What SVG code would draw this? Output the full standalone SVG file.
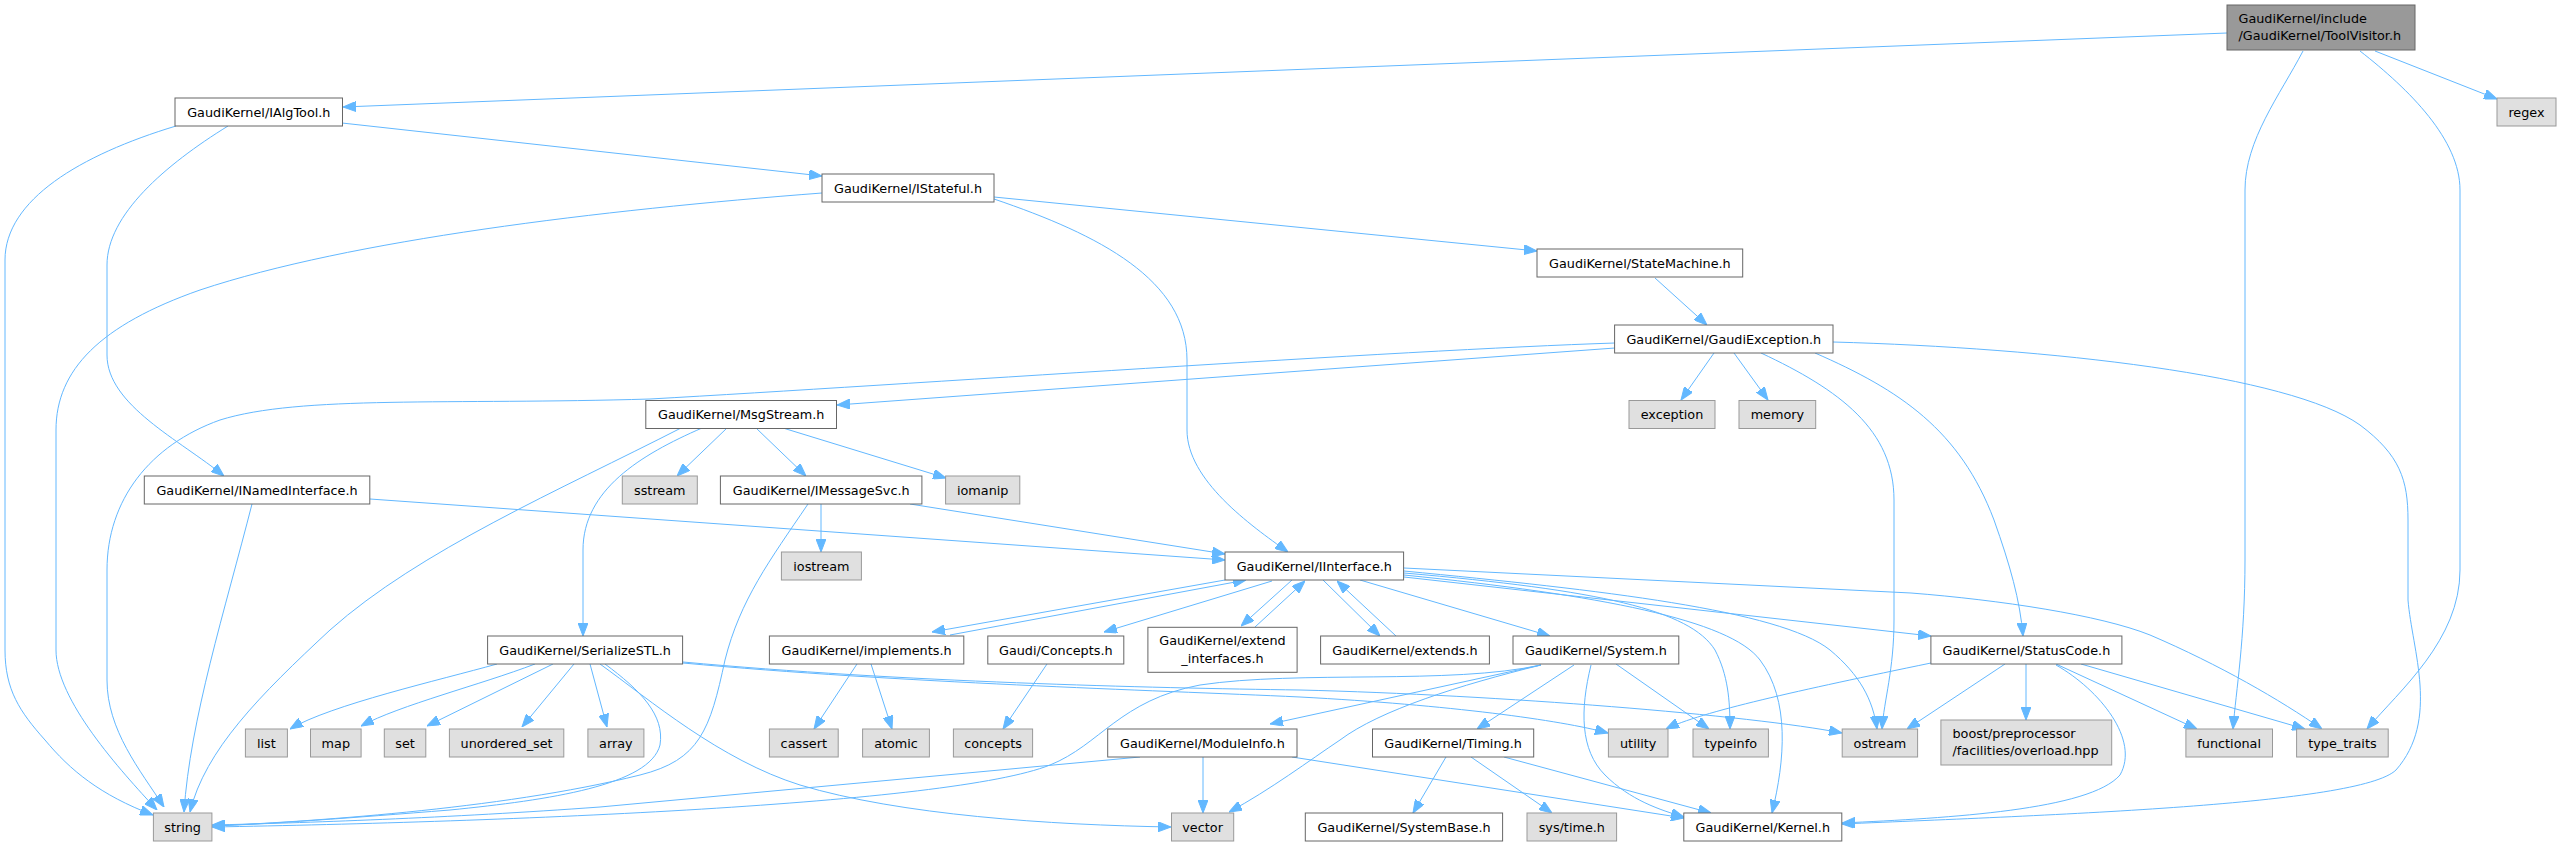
<svg xmlns="http://www.w3.org/2000/svg" width="2561" height="846" viewBox="0 0 2561 846">
<style>
text{font-family:"DejaVu Sans","Liberation Sans",sans-serif;font-size:12.8px;fill:#000;text-anchor:middle}
.n rect{fill:#fff;stroke:#666;stroke-width:1}
.x rect{fill:#e0e0e0;stroke:#999;stroke-width:1}
.r rect{fill:#999;stroke:#666;stroke-width:1}
.l text{text-anchor:start}
#edges path{fill:none;stroke:#63b8ff;stroke-width:1;marker-end:url(#ah)}
</style>
<defs>
<marker id="ah" markerUnits="userSpaceOnUse" markerWidth="13" markerHeight="10" refX="13" refY="5" orient="auto">
<path d="M0,0 L13,5 L0,10 z" fill="#63b8ff" stroke="#63b8ff" stroke-width="1"/>
</marker>
</defs>
<rect width="2561" height="846" fill="#fff"/>
<g id="edges">
<path d="M2227,33 L343,107"/>
<path d="M2375,51 L2497,99"/>
<path d="M2303,51 C2280,95 2245,140 2245,190 L2245,560 C2245,640 2236,690 2233,729"/>
<path d="M2360,51 C2410,90 2460,140 2460,190 L2460,570 C2460,640 2400,690 2367,729"/>
<path d="M342,123 L822,176"/>
<path d="M228,126 C165,165 107,215 107,265 L107,355 C107,405 180,440 224,476"/>
<path d="M176,126 C80,155 5,200 5,260 L5,650 C5,690 20,712 45,740 C70,770 100,795 153,815"/>
<path d="M994,199 C1100,235 1187,280 1187,360 L1187,430 C1187,480 1250,525 1288,552"/>
<path d="M994,197 L1537,251"/>
<path d="M822,193 C600,210 350,240 200,290 C100,325 56,370 56,430 L56,650 C56,700 120,770 157,810"/>
<path d="M1655,278 L1707,325"/>
<path d="M1615,348 L837,405"/>
<path d="M1615,343 C1400,350 900,385 650,399 C450,405 300,395 220,420 C150,445 107,500 107,570 L107,680 C107,730 140,770 164,807"/>
<path d="M1714,353 L1681,400"/>
<path d="M1734,353 L1768,400"/>
<path d="M1761,353 C1840,390 1894,430 1894,500 L1894,620 C1894,670 1884,700 1882,729"/>
<path d="M1815,353 C1900,390 1960,430 1994,520 C2010,565 2020,600 2023,636"/>
<path d="M1833,342 C2050,348 2290,375 2360,425 C2400,455 2408,480 2408,520 L2408,600 C2412,650 2440,720 2396,770 C2360,805 2050,815 1842,824"/>
<path d="M2056,665 C2100,690 2140,740 2120,775 C2090,810 1950,818 1842,823"/>
<path d="M2026,664 L2026,720"/>
<path d="M2056,664 L2197,729"/>
<path d="M2081,664 L2305,729"/>
<path d="M2005,664 L1907,729"/>
<path d="M1931,663 C1800,690 1700,712 1666,729"/>
<path d="M727,428 L677,476"/>
<path d="M756,428 L806,476"/>
<path d="M783,428 L946,478"/>
<path d="M702,428 C640,455 583,490 583,550 L583,636"/>
<path d="M681,428 C560,490 420,550 330,630 C260,695 205,750 190,812"/>
<path d="M821,504 L821,552"/>
<path d="M910,504 L1225,554"/>
<path d="M808,504 C770,560 740,600 725,660 C710,730 700,760 640,775 C500,810 300,822 212,826"/>
<path d="M370,499 L1225,560"/>
<path d="M252,504 C225,610 190,720 184,812"/>
<path d="M950,635 L1246,580"/>
<path d="M1225,580 L932,632"/>
<path d="M1272,581 L1104,632"/>
<path d="M1292,580 L1241,626"/>
<path d="M1255,627 L1305,581"/>
<path d="M1323,580 L1380,636"/>
<path d="M1396,636 L1337,581"/>
<path d="M1360,580 L1550,636"/>
<path d="M1404,577 L1931,636"/>
<path d="M1404,573 C1600,590 1690,610 1715,650 C1728,675 1730,700 1730,729"/>
<path d="M1404,571 C1600,590 1780,610 1830,650 C1860,675 1873,700 1877,729"/>
<path d="M1404,575 C1600,595 1730,620 1760,660 C1790,700 1785,760 1772,813"/>
<path d="M1404,568 L1911,593 C2000,600 2100,615 2150,635 C2220,665 2280,700 2322,729"/>
<path d="M857,664 L814,729"/>
<path d="M871,664 L892,729"/>
<path d="M1047,664 L1003,729"/>
<path d="M1541,665 L1270,724"/>
<path d="M1574,665 L1477,729"/>
<path d="M1591,665 C1580,710 1580,750 1605,775 C1630,800 1660,810 1684,817"/>
<path d="M1616,664 L1709,729"/>
<path d="M1541,665 C1460,685 1380,710 1340,740 C1310,760 1270,790 1229,812"/>
<path d="M1541,665 C1450,685 1300,670 1200,685 C1120,700 1100,745 1050,765 C950,805 500,822 212,827"/>
<path d="M1292,757 L1684,818"/>
<path d="M1140,757 L600,807 C450,818 300,823 212,825"/>
<path d="M1203,757 L1203,813"/>
<path d="M1446,757 L1413,813"/>
<path d="M1471,757 L1552,813"/>
<path d="M1504,757 L1711,813"/>
<path d="M497,664 C440,680 330,705 290,729"/>
<path d="M535,664 C480,685 400,705 361,726"/>
<path d="M553,664 L427,726"/>
<path d="M574,664 L522,727"/>
<path d="M590,664 L607,727"/>
<path d="M600,664 C650,700 720,760 800,785 C900,815 1050,825 1171,827"/>
<path d="M605,664 C640,690 665,715 660,745 C650,785 550,800 450,810 C350,818 270,824 212,826"/>
<path d="M683,663 C900,683 1150,690 1300,697 C1450,705 1560,720 1608,733"/>
<path d="M683,662 C900,682 1150,688 1300,690 C1500,695 1750,715 1842,733"/>
</g>
<g id="toolvisitor" class="r l"><rect x="2227" y="5" width="188" height="45"/><text x="2238.5" y="23">GaudiKernel/include</text><text x="2238.5" y="39.6">/GaudiKernel/ToolVisitor.h</text></g>
<g id="ialgtool" class="n"><rect x="175" y="98" width="167.5" height="28"/><text x="258.8" y="116.6">GaudiKernel/IAlgTool.h</text></g>
<g id="regex" class="x"><rect x="2497" y="98" width="59" height="28"/><text x="2526.5" y="116.6">regex</text></g>
<g id="istateful" class="n"><rect x="822" y="174" width="172" height="28"/><text x="908" y="192.6">GaudiKernel/IStateful.h</text></g>
<g id="statemachine" class="n"><rect x="1537" y="249" width="205.7" height="28"/><text x="1639.9" y="267.6">GaudiKernel/StateMachine.h</text></g>
<g id="gaudiexception" class="n"><rect x="1614.6" y="325" width="218.4" height="28"/><text x="1723.8" y="343.6">GaudiKernel/GaudiException.h</text></g>
<g id="msgstream" class="n"><rect x="645.8" y="400.5" width="190.7" height="28"/><text x="741.2" y="419.1">GaudiKernel/MsgStream.h</text></g>
<g id="exception" class="x"><rect x="1629" y="400.5" width="86" height="28"/><text x="1672" y="419.1">exception</text></g>
<g id="memory" class="x"><rect x="1739" y="400.5" width="76.7" height="28"/><text x="1777.4" y="419.1">memory</text></g>
<g id="inamedinterface" class="n"><rect x="144.3" y="476" width="225.5" height="28"/><text x="257" y="494.6">GaudiKernel/INamedInterface.h</text></g>
<g id="sstream" class="x"><rect x="622.3" y="476" width="75" height="28"/><text x="659.8" y="494.6">sstream</text></g>
<g id="imessagesvc" class="n"><rect x="720.4" y="476" width="201.5" height="28"/><text x="821.2" y="494.6">GaudiKernel/IMessageSvc.h</text></g>
<g id="iomanip" class="x"><rect x="945.6" y="476" width="74.2" height="28"/><text x="982.7" y="494.6">iomanip</text></g>
<g id="iostream" class="x"><rect x="781.4" y="552" width="80" height="28"/><text x="821.4" y="570.6">iostream</text></g>
<g id="iinterface" class="n"><rect x="1225" y="552" width="178.6" height="28"/><text x="1314.3" y="570.6">GaudiKernel/IInterface.h</text></g>
<g id="serializestl" class="n"><rect x="487.6" y="636" width="195" height="28"/><text x="585.1" y="654.6">GaudiKernel/SerializeSTL.h</text></g>
<g id="implements" class="n"><rect x="769.4" y="636" width="194.4" height="28"/><text x="866.6" y="654.6">GaudiKernel/implements.h</text></g>
<g id="concepts_h" class="n"><rect x="987.8" y="636" width="136" height="28"/><text x="1055.8" y="654.6">Gaudi/Concepts.h</text></g>
<g id="extend_interfaces" class="n"><rect x="1147.9" y="627.3" width="149.2" height="45"/><text x="1222.5" y="645.3">GaudiKernel/extend</text><text x="1222.5" y="662.9">_interfaces.h</text></g>
<g id="extends" class="n"><rect x="1320.6" y="636" width="168.8" height="28"/><text x="1405" y="654.6">GaudiKernel/extends.h</text></g>
<g id="system" class="n"><rect x="1513" y="636" width="165.8" height="28"/><text x="1595.9" y="654.6">GaudiKernel/System.h</text></g>
<g id="statuscode" class="n"><rect x="1930.9" y="636" width="191" height="28"/><text x="2026.4" y="654.6">GaudiKernel/StatusCode.h</text></g>
<g id="list" class="x"><rect x="245.4" y="729" width="42" height="28"/><text x="266.4" y="747.6">list</text></g>
<g id="map" class="x"><rect x="310.5" y="729" width="50.6" height="28"/><text x="335.8" y="747.6">map</text></g>
<g id="set" class="x"><rect x="384.3" y="729" width="41.5" height="28"/><text x="405" y="747.6">set</text></g>
<g id="unordered_set" class="x"><rect x="449.4" y="729" width="114.4" height="28"/><text x="506.6" y="747.6">unordered_set</text></g>
<g id="array" class="x"><rect x="587.9" y="729" width="56" height="28"/><text x="615.9" y="747.6">array</text></g>
<g id="cassert" class="x"><rect x="769.4" y="729" width="68.8" height="28"/><text x="803.8" y="747.6">cassert</text></g>
<g id="atomic" class="x"><rect x="862.6" y="729" width="66.8" height="28"/><text x="896" y="747.6">atomic</text></g>
<g id="concepts" class="x"><rect x="953.4" y="729" width="79.2" height="28"/><text x="993" y="747.6">concepts</text></g>
<g id="moduleinfo" class="n"><rect x="1107.7" y="729" width="189.3" height="28"/><text x="1202.4" y="747.6">GaudiKernel/ModuleInfo.h</text></g>
<g id="timing" class="n"><rect x="1372.5" y="729" width="161.2" height="28"/><text x="1453.1" y="747.6">GaudiKernel/Timing.h</text></g>
<g id="utility" class="x"><rect x="1608.4" y="729" width="59.6" height="28"/><text x="1638.2" y="747.6">utility</text></g>
<g id="typeinfo" class="x"><rect x="1693" y="729" width="75.4" height="28"/><text x="1730.7" y="747.6">typeinfo</text></g>
<g id="ostream" class="x"><rect x="1842.2" y="729" width="75.4" height="28"/><text x="1879.9" y="747.6">ostream</text></g>
<g id="boost" class="x l"><rect x="1940.9" y="720" width="170.8" height="45"/><text x="1952.5" y="738">boost/preprocessor</text><text x="1952.5" y="754.6">/facilities/overload.hpp</text></g>
<g id="functional" class="x"><rect x="2185.9" y="729" width="86.6" height="28"/><text x="2229.2" y="747.6">functional</text></g>
<g id="type_traits" class="x"><rect x="2296.6" y="729" width="91.6" height="28"/><text x="2342.4" y="747.6">type_traits</text></g>
<g id="string" class="x"><rect x="153.4" y="813" width="58.5" height="28"/><text x="182.6" y="831.6">string</text></g>
<g id="vector" class="x"><rect x="1171.5" y="813" width="62.2" height="28"/><text x="1202.6" y="831.6">vector</text></g>
<g id="systembase" class="n"><rect x="1305.3" y="813" width="197.3" height="28"/><text x="1404" y="831.6">GaudiKernel/SystemBase.h</text></g>
<g id="systime" class="x"><rect x="1527" y="813" width="89.6" height="28"/><text x="1571.8" y="831.6">sys/time.h</text></g>
<g id="kernel" class="n"><rect x="1683.8" y="813" width="158" height="28"/><text x="1762.8" y="831.6">GaudiKernel/Kernel.h</text></g>
</svg>
